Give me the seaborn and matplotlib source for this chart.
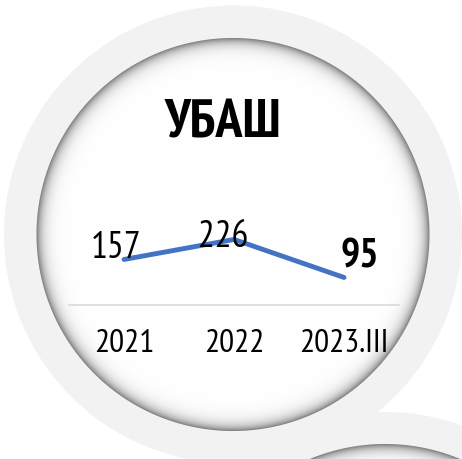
import numpy as np
import pandas as pd
import matplotlib
matplotlib.use("Agg")
import matplotlib.pyplot as plt
from matplotlib import font_manager
from matplotlib.patches import Circle
import seaborn as sns

# Data
periods = ["2021", "2022", "2023.III"]
counts = [157, 226, 95]
title = "УБАШ"

W, H, DPI = 462, 459, 100

sns.set_theme(style="white")

# Narrow sans-serif with Cyrillic coverage
installed = {f.name for f in font_manager.fontManager.ttflist}
narrow = next((n for n in ["Arial Narrow", "Liberation Sans Narrow", "PT Sans Narrow",
                           "Roboto Condensed", "Fira Sans Condensed", "IBM Plex Sans Condensed"]
               if n in installed), None)
if narrow:
    plt.rcParams["font.family"] = [narrow, "DejaVu Sans"]
else:
    plt.rcParams["font.family"] = ["DejaVu Sans"]
    plt.rcParams["font.stretch"] = "condensed"

fig = plt.figure(figsize=(W / DPI, H / DPI), dpi=DPI)
fig.patch.set_facecolor("white")

# Background: magnifier rings and lenses, in pixel coordinates
bg = fig.add_axes([0, 0, 1, 1])
bg.set_xlim(0, W)
bg.set_ylim(H, 0)
bg.axis("off")

ring = "#f2f2f2"
lenses = [((233.0, 234.5), 229.0, 196.5), ((385.0, 640.0), 228.0, 196.0)]
for (cx, cy), r_out, _ in lenses:
    bg.add_patch(Circle((cx, cy), r_out, facecolor=ring, edgecolor="none", zorder=0))

yy, xx = np.mgrid[0:H, 0:W] + 0.5
rgba = np.zeros((H, W, 4))
for (cx, cy), _, r_in in lenses:
    d = np.hypot(xx - cx, yy - cy)
    cover = np.clip(r_in - d + 0.5, 0, 1)
    depth = np.clip(r_in - d, 0, None)
    shade = 1 - 0.52 * np.exp(-depth / 6.0)
    m = cover > 0
    for c in range(3):
        rgba[..., c][m] = shade[m]
    rgba[..., 3][m] = cover[m]
bg.imshow(rgba, extent=(0, W, H, 0), interpolation="nearest", zorder=1)

# Line chart
ax = fig.add_axes([69 / W, (H - 305) / H, 330 / W, 87 / H])
ax.patch.set_alpha(0)
df = pd.DataFrame({"period": periods, "count": counts})
sns.lineplot(data=df, x="period", y="count", sort=False, color="#4472C4",
             linewidth=3.5, solid_capstyle="round", ax=ax)
ax.set_xlim(-0.5, 2.5)
ax.set_ylim(0, 300)
ax.set_xlabel("")
ax.set_ylabel("")
ax.set_yticks([])
for s in ["top", "left", "right"]:
    ax.spines[s].set_visible(False)
ax.spines["bottom"].set_color("#d9d9d9")
ax.spines["bottom"].set_linewidth(1.2)
ax.tick_params(axis="x", length=0, pad=17, labelsize=24, labelcolor="black")

offsets = [(-8, 1.5), (-11, -7.5), (16, 9.5)]
styles = [(27, "normal"), (27, "normal"), (29, "bold")]
for i, v in enumerate(counts):
    size, weight = styles[i]
    ax.annotate(f"{v}", xy=(i, v), xytext=offsets[i], textcoords="offset pixels",
                ha="center", va="baseline", fontsize=size, fontweight=weight,
                color="black", annotation_clip=False)

fig.text(223 / W, (H - 137) / H, title, ha="center", va="baseline",
         fontsize=39, fontweight="bold", color="black")

fig.savefig("out.png", dpi=DPI)
